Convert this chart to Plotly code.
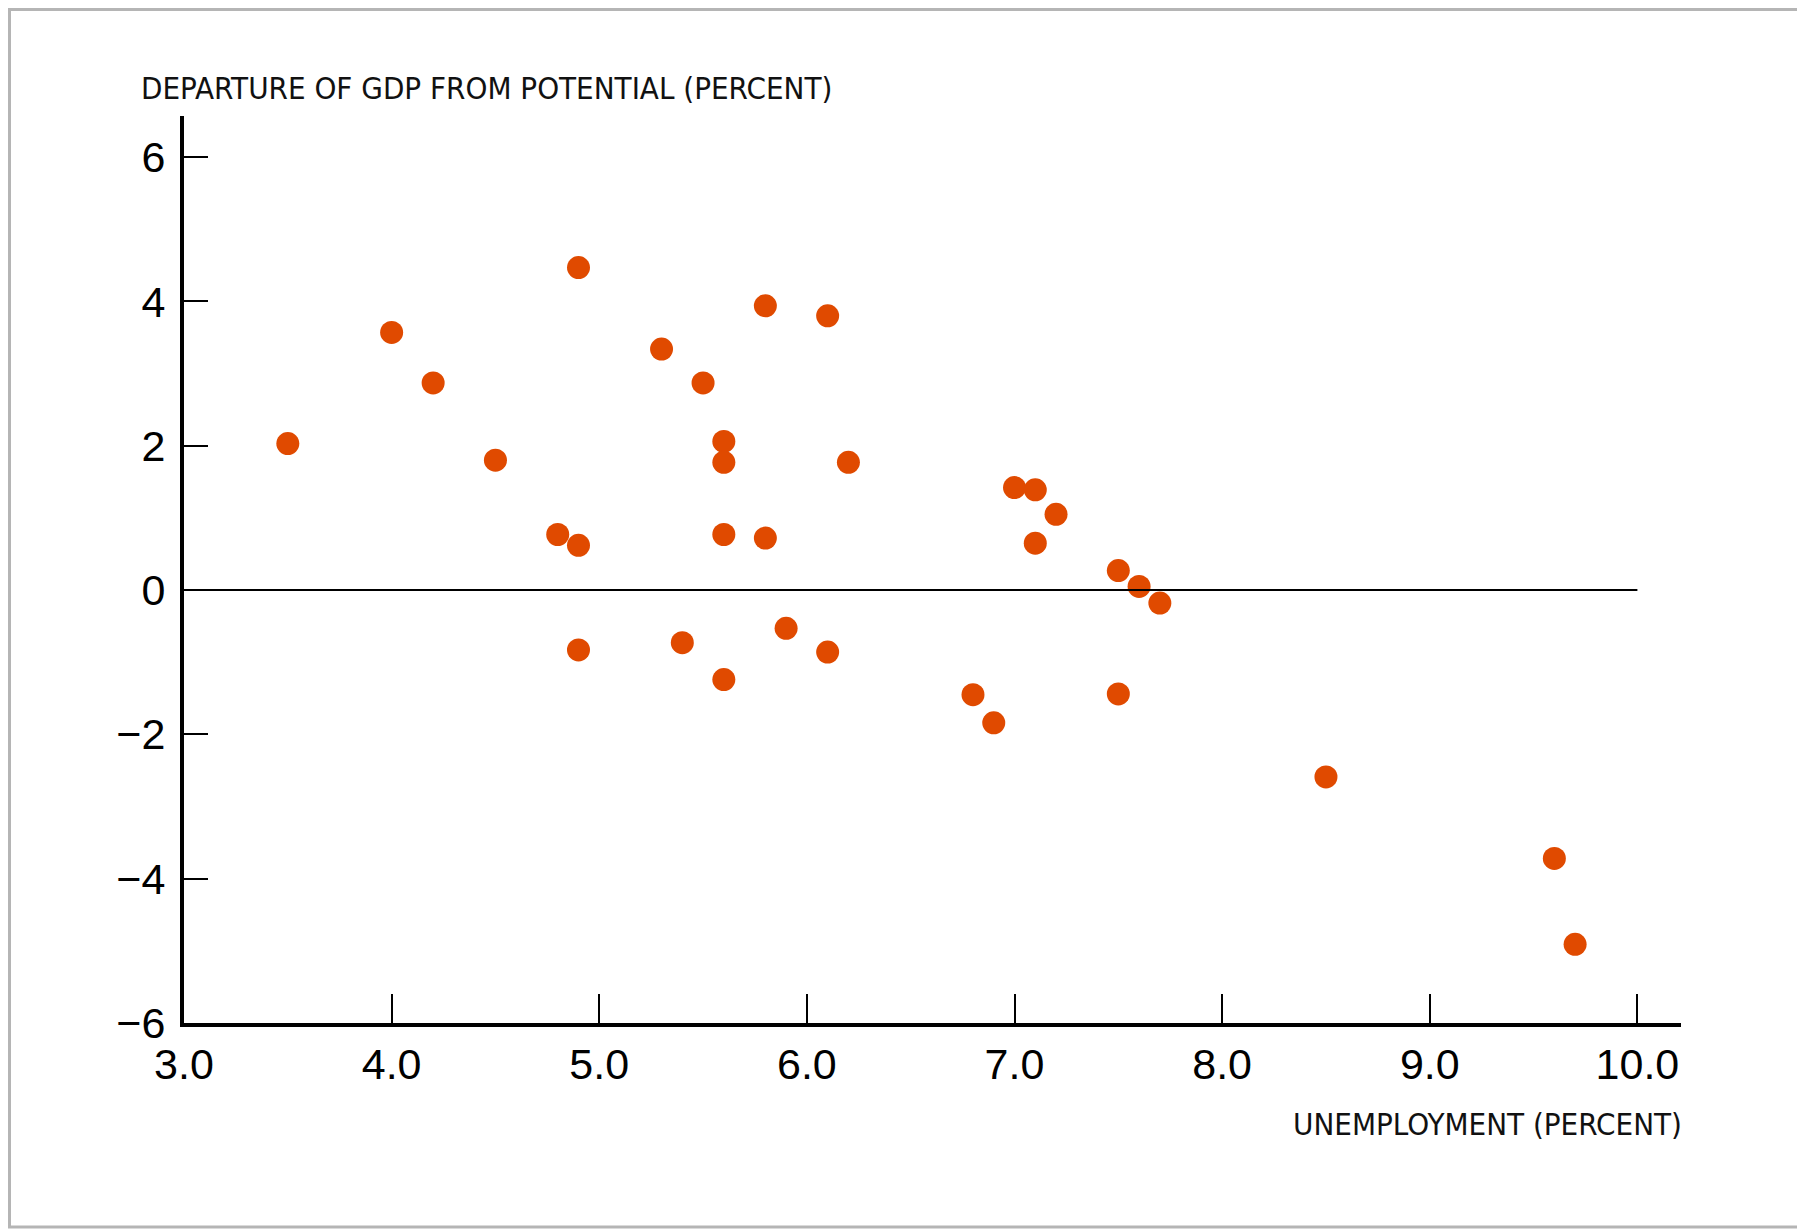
import plotly.graph_objects as go

unemployment = [3.5, 4.0, 4.2, 4.5, 4.8, 4.9, 4.9, 4.9, 5.3, 5.4, 5.5, 5.6, 5.6, 5.6, 5.6,
                5.8, 5.8, 5.9, 6.1, 6.1, 6.2, 6.8, 6.9, 7.0, 7.1, 7.1, 7.2, 7.5, 7.6, 7.7,
                7.5, 8.5, 9.6, 9.7]
gdp_gap = [2.03, 3.57, 2.87, 1.80, 0.77, 0.62, 4.47, -0.83, 3.34, -0.73, 2.87, 2.06, 1.77, 0.77, -1.24,
           3.94, 0.72, -0.53, 3.80, -0.86, 1.77, -1.45, -1.84, 1.42, 1.39, 0.65, 1.05, 0.27, 0.05, -0.18,
           -1.44, -2.59, -3.72, -4.91]

x_ticks = [3, 4, 5, 6, 7, 8, 9, 10]
x_tick_labels = ["3.0", "4.0", "5.0", "6.0", "7.0", "8.0", "9.0", "10.0"]
y_ticks = [-6, -4, -2, 0, 2, 4, 6]
y_tick_labels = ["\u22126", "\u22124", "\u22122", "0", "2", "4", "6"]
zero_line_x = [3, 10]
zero_line_y = [0, 0]

fig = go.Figure()
fig.add_trace(go.Scatter(
    x=unemployment, y=gdp_gap, mode="markers",
    marker=dict(size=23, color="#E04A00", line=dict(width=0)),
    showlegend=False, hoverinfo="x+y"))
fig.add_trace(go.Scatter(
    x=zero_line_x, y=zero_line_y, mode="lines",
    line=dict(color="black", width=2), showlegend=False, hoverinfo="skip"))

# page has a body margin; figure coordinates = page coordinates - OFF
OFF = 7
W, H = 1805 - OFF, 1229 - OFF
L, T = 183 - OFF, 115 - OFF
R = W - (1680 - OFF)
B = H - (1022 - OFF)
pw, ph = W - L - R, H - T - B

def px(xpage):
    return (xpage - OFF - L) / pw

def py(ypage):
    return (H - B - (ypage - OFF)) / ph

title_font = dict(family="Liberation Sans Narrow, Arial Narrow, DejaVu Sans Condensed, sans-serif",
                  size=31, color="#111")

fig.update_layout(
    width=W, height=H,
    margin=dict(l=L, r=R, t=T, b=B),
    paper_bgcolor="white", plot_bgcolor="white",
    font=dict(family="Liberation Sans, Arial, sans-serif", color="black"),
    xaxis=dict(range=[3, 10.21], tickvals=x_ticks, ticktext=x_tick_labels,
               ticks="inside", ticklen=29, tickwidth=2, tickcolor="black",
               showline=True, linewidth=4, linecolor="black", showgrid=False,
               zeroline=False, tickfont=dict(size=43), ticklabelstandoff=0),
    yaxis=dict(range=[-6, 6.57], tickvals=y_ticks, ticktext=y_tick_labels,
               ticks="inside", ticklen=24, tickwidth=2, tickcolor="black",
               showline=True, linewidth=4, linecolor="black", showgrid=False,
               zeroline=False, tickfont=dict(size=43), ticklabelstandoff=6),
    annotations=[
        dict(text="DEPARTURE OF GDP FROM POTENTIAL (PERCENT)", xref="paper", yref="paper",
             x=px(138), y=py(87), xanchor="left", yanchor="middle",
             showarrow=False, font=title_font),
        dict(text="UNEMPLOYMENT (PERCENT)", xref="paper", yref="paper",
             x=px(1683), y=py(1123), xanchor="right", yanchor="middle",
             showarrow=False, font=title_font),
    ],
    shapes=[dict(type="rect", xref="paper", yref="paper",
                 x0=px(OFF + 1.5), x1=px(1801),
                 y0=py(1226), y1=py(OFF + 1.5),
                 line=dict(color="#b5b5b5", width=3), fillcolor="rgba(0,0,0,0)", layer="below")],
)

fig.write_html("out.html")
